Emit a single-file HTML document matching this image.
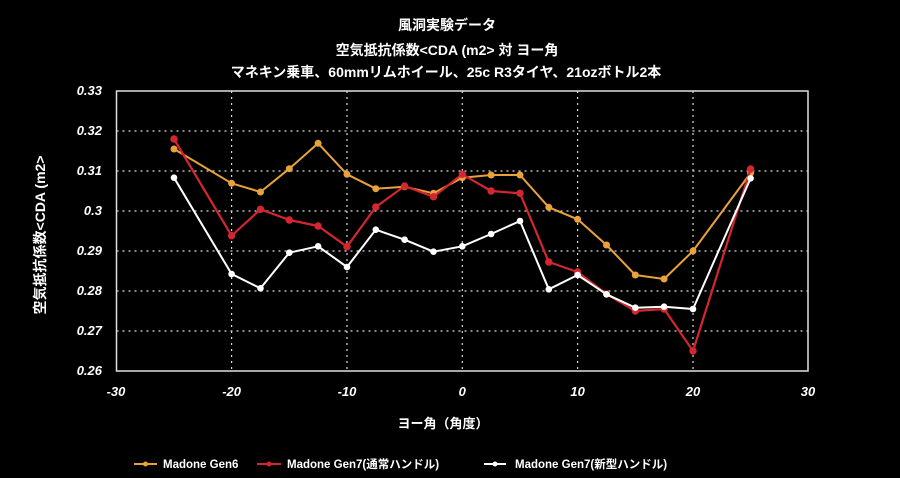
<!DOCTYPE html>
<html>
<head>
<meta charset="utf-8">
<style>
  html,body{margin:0;padding:0;background:#000;}
  body{width:900px;height:478px;overflow:hidden;}
  svg{display:block;}
  text{font-family:"Liberation Sans","Noto Sans CJK JP",sans-serif;fill:#fff;font-weight:bold;}
  .tick{font-style:italic;font-size:13px;}
</style>
</head>
<body>
<svg width="900" height="478" viewBox="0 0 900 478" xmlns="http://www.w3.org/2000/svg">
  <rect width="900" height="478" fill="#000"/>
  <!-- titles -->
  <text x="447" y="30" font-size="14" text-anchor="middle">風洞実験データ</text>
  <text x="447" y="55" font-size="14" text-anchor="middle">空気抵抗係数&lt;CDA (m2&gt; 対 ヨー角</text>
  <text x="446" y="77" font-size="14" text-anchor="middle">マネキン乗車、60mmリムホイール、25c R3タイヤ、21ozボトル2本</text>

  <!-- grid -->
  <g stroke="#d8d8d8" stroke-width="1.2" stroke-dasharray="2,4" fill="none">
    <line x1="116.5" y1="131" x2="808" y2="131"/>
    <line x1="116.5" y1="171" x2="808" y2="171"/>
    <line x1="116.5" y1="211" x2="808" y2="211"/>
    <line x1="116.5" y1="251" x2="808" y2="251"/>
    <line x1="116.5" y1="291" x2="808" y2="291"/>
    <line x1="116.5" y1="331" x2="808" y2="331"/>
    <line x1="231.6" y1="91" x2="231.6" y2="371"/>
    <line x1="347" y1="91" x2="347" y2="371"/>
    <line x1="462.3" y1="91" x2="462.3" y2="371"/>
    <line x1="577.6" y1="91" x2="577.6" y2="371"/>
    <line x1="693" y1="91" x2="693" y2="371"/>
  </g>
  <rect x="116.5" y="91" width="691.5" height="280" fill="none" stroke="#e0e0e0" stroke-width="1.5"/>

  <!-- y tick labels -->
  <g class="tick" text-anchor="end">
    <text x="102" y="95" class="tick">0.33</text>
    <text x="102" y="135" class="tick">0.32</text>
    <text x="102" y="175" class="tick">0.31</text>
    <text x="102" y="215" class="tick">0.3</text>
    <text x="102" y="255" class="tick">0.29</text>
    <text x="102" y="295" class="tick">0.28</text>
    <text x="102" y="335" class="tick">0.27</text>
    <text x="102" y="375" class="tick">0.26</text>
  </g>
  <!-- x tick labels -->
  <g text-anchor="middle">
    <text x="116" y="396" class="tick">-30</text>
    <text x="231.6" y="396" class="tick">-20</text>
    <text x="347" y="396" class="tick">-10</text>
    <text x="462.3" y="396" class="tick">0</text>
    <text x="577.6" y="396" class="tick">10</text>
    <text x="693" y="396" class="tick">20</text>
    <text x="808" y="396" class="tick">30</text>
  </g>

  <!-- axis titles -->
  <text x="443" y="428" font-size="13" text-anchor="middle">ヨー角（角度）</text>
  <text transform="translate(45,235) rotate(-90)" font-size="14" text-anchor="middle">空気抵抗係数&lt;CDA (m2&gt;</text>

  <!-- Orange series -->
  <g>
    <polyline fill="none" stroke="#E9A23B" stroke-width="2" stroke-linejoin="round"
      points="174,149 231.6,183.3 260.5,192 289.3,168.7 318.1,143.3 347,174.3 375.8,188.7 404.6,186.7 433.5,193.3 462.3,177.7 491.1,175 520,175 548.8,207.3 577.6,219.3 606.5,245 635.3,275 664.1,279 693,251 750.6,173"/>
    <g fill="#E9A23B">
      <circle cx="174" cy="149" r="3.5"/><circle cx="231.6" cy="183.3" r="3.5"/><circle cx="260.5" cy="192" r="3.5"/><circle cx="289.3" cy="168.7" r="3.5"/><circle cx="318.1" cy="143.3" r="3.5"/><circle cx="347" cy="174.3" r="3.5"/><circle cx="375.8" cy="188.7" r="3.5"/><circle cx="404.6" cy="186.7" r="3.5"/><circle cx="433.5" cy="193.3" r="3.5"/><circle cx="462.3" cy="177.7" r="3.5"/><circle cx="491.1" cy="175" r="3.5"/><circle cx="520" cy="175" r="3.5"/><circle cx="548.8" cy="207.3" r="3.5"/><circle cx="577.6" cy="219.3" r="3.5"/><circle cx="606.5" cy="245" r="3.5"/><circle cx="635.3" cy="275" r="3.5"/><circle cx="664.1" cy="279" r="3.5"/><circle cx="693" cy="251" r="3.5"/><circle cx="750.6" cy="173" r="3.5"/>
    </g>
  </g>

  <!-- Red series -->
  <g>
    <polyline fill="none" stroke="#D3262F" stroke-width="2.2" stroke-linejoin="round"
      points="174,139 231.6,235.7 260.5,209.3 289.3,220 318.1,226 347,246.7 375.8,207 404.6,186 433.5,196.7 462.3,174.3 491.1,191 520,193.3 548.8,262 577.6,272 606.5,294 635.3,311 664.1,309 693,351 750.6,169"/>
    <g fill="#D3262F">
      <circle cx="174" cy="139" r="3.7"/><circle cx="231.6" cy="235.7" r="3.7"/><circle cx="260.5" cy="209.3" r="3.7"/><circle cx="289.3" cy="220" r="3.7"/><circle cx="318.1" cy="226" r="3.7"/><circle cx="347" cy="246.7" r="3.7"/><circle cx="375.8" cy="207" r="3.7"/><circle cx="404.6" cy="186" r="3.7"/><circle cx="433.5" cy="196.7" r="3.7"/><circle cx="462.3" cy="174.3" r="3.7"/><circle cx="491.1" cy="191" r="3.7"/><circle cx="520" cy="193.3" r="3.7"/><circle cx="548.8" cy="262" r="3.7"/><circle cx="577.6" cy="272" r="3.7"/><circle cx="606.5" cy="294" r="3.7"/><circle cx="635.3" cy="311" r="3.7"/><circle cx="664.1" cy="309" r="3.7"/><circle cx="693" cy="351" r="3.7"/><circle cx="750.6" cy="169" r="3.7"/>
    </g>
  </g>

  <!-- White series -->
  <g>
    <polyline fill="none" stroke="#ffffff" stroke-width="2" stroke-linejoin="round"
      points="174,177.7 231.6,274 260.5,288.3 289.3,252.7 318.1,246.3 347,267 375.8,229.7 404.6,239.7 433.5,251.7 462.3,246.3 491.1,234 520,221 548.8,289.3 577.6,275 606.5,294.3 635.3,307.7 664.1,306.7 693,309 750.6,178.3"/>
    <g fill="#ffffff">
      <circle cx="174" cy="177.7" r="3.3"/><circle cx="231.6" cy="274" r="3.3"/><circle cx="260.5" cy="288.3" r="3.3"/><circle cx="289.3" cy="252.7" r="3.3"/><circle cx="318.1" cy="246.3" r="3.3"/><circle cx="347" cy="267" r="3.3"/><circle cx="375.8" cy="229.7" r="3.3"/><circle cx="404.6" cy="239.7" r="3.3"/><circle cx="433.5" cy="251.7" r="3.3"/><circle cx="462.3" cy="246.3" r="3.3"/><circle cx="491.1" cy="234" r="3.3"/><circle cx="520" cy="221" r="3.3"/><circle cx="548.8" cy="289.3" r="3.3"/><circle cx="577.6" cy="275" r="3.3"/><circle cx="606.5" cy="294.3" r="3.3"/><circle cx="635.3" cy="307.7" r="3.3"/><circle cx="664.1" cy="306.7" r="3.3"/><circle cx="693" cy="309" r="3.3"/><circle cx="750.6" cy="178.3" r="3.3"/>
    </g>
  </g>

  <!-- legend -->
  <g>
    <line x1="134" y1="464" x2="157" y2="464" stroke="#E9A23B" stroke-width="2"/>
    <circle cx="145.5" cy="464" r="2.5" fill="#E9A23B"/>
    <text x="163" y="468" font-size="11.5">Madone Gen6</text>

    <line x1="257" y1="464" x2="281" y2="464" stroke="#D3262F" stroke-width="2"/>
    <circle cx="269" cy="464" r="2.5" fill="#D3262F"/>
    <text x="287" y="468" font-size="11.5">Madone Gen7(通常ハンドル)</text>

    <line x1="484" y1="464" x2="506" y2="464" stroke="#fff" stroke-width="2"/>
    <circle cx="495" cy="464" r="2.5" fill="#fff"/>
    <text x="515" y="468" font-size="11.5">Madone Gen7(新型ハンドル)</text>
  </g>
</svg>
</body>
</html>
